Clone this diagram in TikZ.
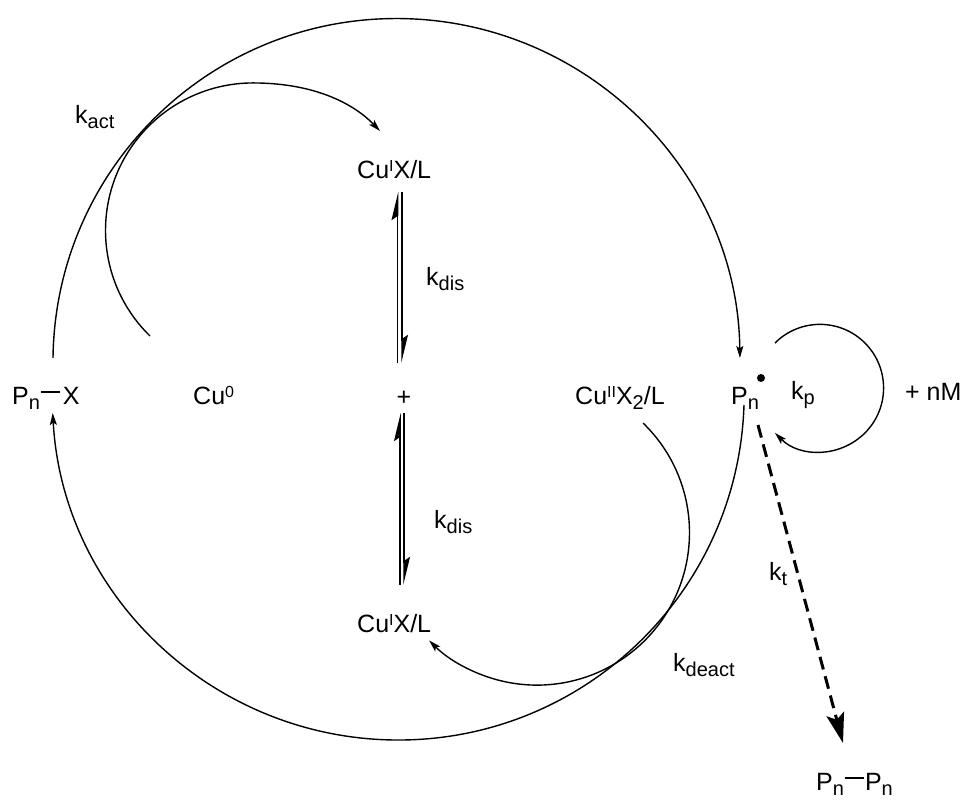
\documentclass[tikz,border=0pt]{standalone}
\usepackage{fontspec}
\setmainfont{Liberation Sans}
\usetikzlibrary{arrows.meta}
\newcommand{\sbs}[1]{\raisebox{-5pt}{\fontsize{20}{20}\selectfont #1}}
\newcommand{\sps}[1]{\raisebox{7pt}{\fontsize{16}{16}\selectfont #1}}
\begin{document}
\begin{tikzpicture}[x=1pt,y=-1pt,
  lbl/.style={anchor=base west,inner sep=0,font=\fontsize{25}{30}\selectfont},
  conn/.style={line width=1.4pt},
  arr/.style={-{Stealth[length=12pt,width=7pt,inset=2.5pt]}},
  harp/.style={line width=1.5pt,-{Stealth[harpoon,length=25pt,width=12pt,inset=4pt]}},
  dsh/.style={line width=3pt,dash pattern=on 13pt off 7pt,-{Stealth[length=30pt,width=18pt,inset=6pt]}}]
\useasboundingbox (0,0) rectangle (964,800);
% labels
\node[lbl] (pnx) at (12,404) {P\sbs{n}\hspace{1pt}\rule[11.3pt]{19pt}{1.4pt}\hspace{3pt}X};
\node[lbl] (cu0) at (193,404) {Cu\sps{0}};
\node[lbl,anchor=base] (plus) at (404,405) {+};
\node[lbl] (cu2) at (575,404) {Cu\sps{II}X\sbs{2}/L};
\node[lbl] (pn) at (731,404) {P\sbs{n}};
\node[circle,fill,inner sep=0,minimum size=8pt] (dot) at (761,378) {};
\node[lbl] (kp) at (791,399) {k\sbs{p}};
\node[lbl] (nm) at (905,400) {+ nM};
\node[lbl] (cu1t) at (357,178) {Cu\sps{I}X/L};
\node[lbl] (cu1b) at (357,632) {Cu\sps{I}X/L};
\node[lbl] (kact) at (75,123) {k\sbs{act}};
\node[lbl] (kdis1) at (426,285) {k\sbs{dis}};
\node[lbl] (kdis2) at (434,528) {k\sbs{dis}};
\node[lbl] (kt) at (769,580) {k\sbs{t}};
\node[lbl] (kdeact) at (673,671) {k\sbs{deact}};
\node[lbl] (pnpn) at (816,790) {P\sbs{n}\hspace{1pt}\rule[11.3pt]{19pt}{1.4pt}\hspace{1pt}P\sbs{n}};
% connector end points
\coordinate (a1s) at (53,358);
\coordinate (a2s) at (744,405);
\coordinate (a3s) at (150,336);
\coordinate (a3e) at (380,131);
\coordinate (a4s) at (643,423);
\coordinate (a5s) at (775,343);
\coordinate (ds) at (758,425);
\coordinate (de) at (843,743);
\coordinate (e1a) at (397.5,363);
\coordinate (e1b) at (397.5,192);
\coordinate (e2a) at (402,192);
\coordinate (e2b) at (402,363);
\coordinate (e3a) at (400,585);
\coordinate (e3b) at (400,413);
\coordinate (e4a) at (404,413);
\coordinate (e4b) at (404,585);
% big arcs
\draw[conn,arr] (a1s) arc[start angle=179.33,end angle=0.67,radius=343.5pt];
\draw[conn,arr] (a2s) arc[start angle=-1.82,end angle=-176.85,radius=346pt];
% activation arc
\draw[conn,arr] (a3s) arc[start angle=225.7,end angle=90,radius=147.5pt]
  .. controls (318,83) and (356,106) .. (a3e);
% deactivation arc
\draw[conn,arr] (a4s) arc[start angle=45.96,end angle=-135,radius=152.5pt];
% propagation loop
\draw[conn,arr] (a5s) arc[start angle=135,end angle=-135,radius=63.6pt];
% termination
\draw[dsh] (ds) -- (de);
% equilibria
\draw[harp] (e1a) -- (e1b);
\draw[harp] (e2a) -- (e2b);
\draw[harp] (e3a) -- (e3b);
\draw[harp] (e4a) -- (e4b);
\end{tikzpicture}
\end{document}
